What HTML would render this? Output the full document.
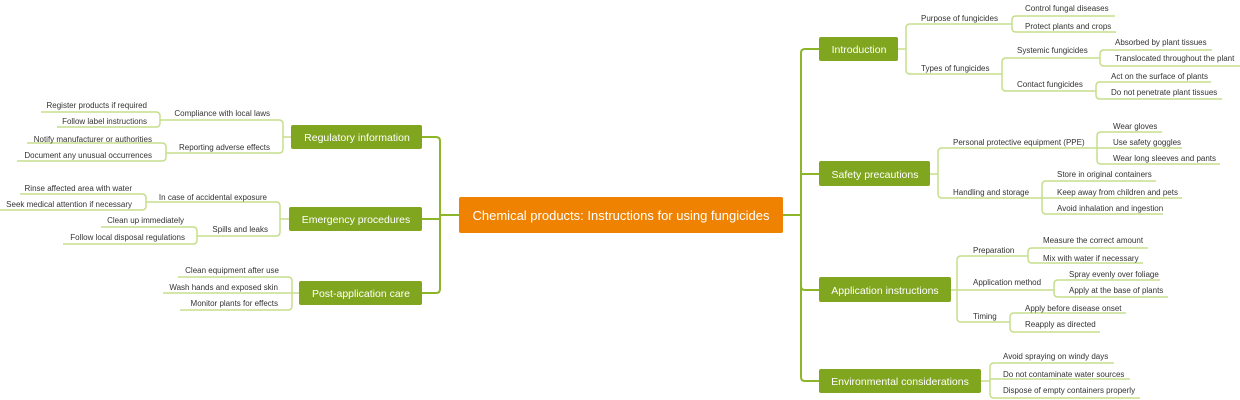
<!DOCTYPE html>
<html><head><meta charset="utf-8"><style>
html,body{margin:0;padding:0;background:#fff;}
svg{display:block;}
text{font-family:"Liberation Sans",sans-serif;}
.s{fill:none;stroke:#c6de8c;stroke-width:1.5;}
.t{fill:none;stroke:#8db52a;stroke-width:2;}
.l{font-size:8px;fill:#333;}
.r{text-anchor:end;}
.n{font-size:10.5px;fill:#fff;text-anchor:middle;}
</style></head><body>
<svg width="1240" height="400" viewBox="0 0 1240 400">
<path class="t" d="M783 215 H801 M801 53 V377 M801 53 Q801 49 805 49 H819 M801 174 H819 M801 286 Q801 290 805 290 H819 M801 377 Q801 381 805 381 H819"/>
<path class="t" d="M459 215 H440 M440 141 V289 M440 141 Q440 137 436 137 H422 M440 219 H422 M440 289 Q440 293 436 293 H422"/>

<path class="s" d="M898 49 H906 M906 49 V28 Q906 24 910 24 H1012 M906 49 V70 Q906 74 910 74 H1002"/>
<path class="s" d="M1012 24 V20 Q1012 16 1016 16 H1115 M1012 24 V28 Q1012 32 1016 32 H1116"/>
<path class="s" d="M1002 74 V62 Q1002 58 1006 58 H1100 M1002 74 V87 Q1002 91 1006 91 H1096"/>
<path class="s" d="M1100 58 V54 Q1100 50 1104 50 H1212 M1100 58 V62 Q1100 66 1104 66 H1240"/>
<path class="s" d="M1096 91 V86 Q1096 82 1100 82 H1211 M1096 91 V95 Q1096 99 1100 99 H1222"/>
<path class="s" d="M930 174 H938 M938 174 V152 Q938 148 942 148 H1097 M938 174 V194 Q938 198 942 198 H1042"/>
<path class="s" d="M1097 148 V136 Q1097 132 1101 132 H1162 M1097 148 H1182 M1097 148 V160 Q1097 164 1101 164 H1220"/>
<path class="s" d="M1042 198 V185 Q1042 181 1046 181 H1156 M1042 198 H1182 M1042 198 V210 Q1042 214 1046 214 H1163"/>
<path class="s" d="M951 290 H957 M957 290 V260 Q957 256 961 256 H1028 M957 290 H1054 M957 290 V318 Q957 322 961 322 H1010"/>
<path class="s" d="M1028 256 V252 Q1028 248 1032 248 H1148 M1028 256 V259 Q1028 263 1032 263 H1143"/>
<path class="s" d="M1054 290 V284 Q1054 280 1058 280 H1160 M1054 290 V293 Q1054 297 1058 297 H1168"/>
<path class="s" d="M1010 322 V317 Q1010 313 1014 313 H1126 M1010 322 V328 Q1010 332 1014 332 H1100"/>
<path class="s" d="M981 381 H990 M990 381 V367 Q990 363 994 363 H1114 M990 381 V379 H1130 M990 381 V394 Q990 398 994 398 H1140"/>

<path class="s" d="M291 137 H283 M283 137 V124 Q283 120 279 120 H160 M283 137 V149 Q283 153 279 153 H166"/>
<path class="s" d="M160 120 V116 Q160 112 156 112 H41 M160 120 V123 Q160 127 156 127 H57"/>
<path class="s" d="M166 153 V147 Q166 143 162 143 H27 M166 153 V157 Q166 161 162 161 H17"/>
<path class="s" d="M289 219 H280 M280 219 V206 Q280 202 276 202 H146 M280 219 V232 Q280 236 276 236 H197"/>
<path class="s" d="M146 202 V198 Q146 194 142 194 H20 M146 202 V206 Q146 210 142 210 H0"/>
<path class="s" d="M197 236 V231 Q197 227 193 227 H101 M197 236 V240 Q197 244 193 244 H63"/>
<path class="s" d="M299 293 H292 M292 293 V281 Q292 277 288 277 H178 M292 293 H163 M292 293 V306 Q292 310 288 310 H180"/>

<rect x="459" y="197" width="324" height="36" rx="2" fill="#ef8200"/>
<text x="621" y="220" font-size="13" fill="#fff" text-anchor="middle">Chemical products: Instructions for using fungicides</text>

<rect x="819" y="37" width="79" height="24" rx="2" fill="#80a51f"/>
<text class="n" x="859" y="53">Introduction</text>
<rect x="819" y="161" width="111" height="25" rx="2" fill="#80a51f"/>
<text class="n" x="875" y="178">Safety precautions</text>
<rect x="819" y="277" width="132" height="25" rx="2" fill="#80a51f"/>
<text class="n" x="885" y="294">Application instructions</text>
<rect x="819" y="369" width="162" height="24" rx="2" fill="#80a51f"/>
<text class="n" x="900" y="385">Environmental considerations</text>

<rect x="291" y="125" width="131" height="24" rx="2" fill="#80a51f"/>
<text class="n" x="357" y="141">Regulatory information</text>
<rect x="289" y="207" width="133" height="24" rx="2" fill="#80a51f"/>
<text class="n" x="356" y="223">Emergency procedures</text>
<rect x="299" y="281" width="123" height="24" rx="2" fill="#80a51f"/>
<text class="n" x="361" y="297">Post-application care</text>

<text class="l" x="921" y="21">Purpose of fungicides</text>
<text class="l" x="921" y="71">Types of fungicides</text>
<text class="l" x="1025" y="11">Control fungal diseases</text>
<text class="l" x="1025" y="29">Protect plants and crops</text>
<text class="l" x="1017" y="53">Systemic fungicides</text>
<text class="l" x="1017" y="87">Contact fungicides</text>
<text class="l" x="1115" y="45">Absorbed by plant tissues</text>
<text class="l" x="1115" y="61">Translocated throughout the plant</text>
<text class="l" x="1111" y="79">Act on the surface of plants</text>
<text class="l" x="1111" y="95">Do not penetrate plant tissues</text>
<text class="l" x="953" y="145">Personal protective equipment (PPE)</text>
<text class="l" x="953" y="195">Handling and storage</text>
<text class="l" x="1113" y="129">Wear gloves</text>
<text class="l" x="1113" y="145">Use safety goggles</text>
<text class="l" x="1113" y="161">Wear long sleeves and pants</text>
<text class="l" x="1057" y="177">Store in original containers</text>
<text class="l" x="1057" y="195">Keep away from children and pets</text>
<text class="l" x="1057" y="211">Avoid inhalation and ingestion</text>
<text class="l" x="973" y="253">Preparation</text>
<text class="l" x="973" y="285">Application method</text>
<text class="l" x="973" y="319">Timing</text>
<text class="l" x="1043" y="243">Measure the correct amount</text>
<text class="l" x="1043" y="261">Mix with water if necessary</text>
<text class="l" x="1069" y="277">Spray evenly over foliage</text>
<text class="l" x="1069" y="293">Apply at the base of plants</text>
<text class="l" x="1025" y="311">Apply before disease onset</text>
<text class="l" x="1025" y="327">Reapply as directed</text>
<text class="l" x="1003" y="359">Avoid spraying on windy days</text>
<text class="l" x="1003" y="377">Do not contaminate water sources</text>
<text class="l" x="1003" y="393">Dispose of empty containers properly</text>

<text class="l r" x="270" y="116">Compliance with local laws</text>
<text class="l r" x="270" y="150">Reporting adverse effects</text>
<text class="l r" x="147" y="108">Register products if required</text>
<text class="l r" x="147" y="124">Follow label instructions</text>
<text class="l r" x="152" y="142">Notify manufacturer or authorities</text>
<text class="l r" x="152" y="158">Document any unusual occurrences</text>
<text class="l r" x="267" y="200">In case of accidental exposure</text>
<text class="l r" x="268" y="232">Spills and leaks</text>
<text class="l r" x="132" y="191">Rinse affected area with water</text>
<text class="l r" x="132" y="207">Seek medical attention if necessary</text>
<text class="l r" x="184" y="223">Clean up immediately</text>
<text class="l r" x="185" y="240">Follow local disposal regulations</text>
<text class="l r" x="279" y="273">Clean equipment after use</text>
<text class="l r" x="278" y="290">Wash hands and exposed skin</text>
<text class="l r" x="278" y="306">Monitor plants for effects</text>
</svg>
</body></html>
